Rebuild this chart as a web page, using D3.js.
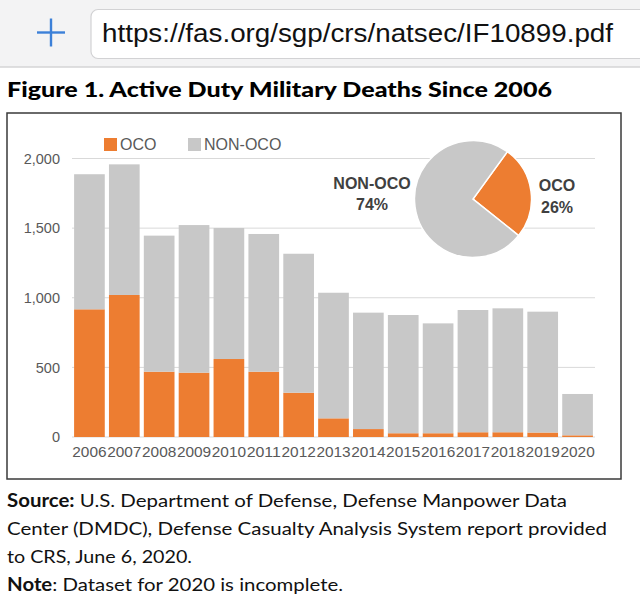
<!DOCTYPE html>
<html><head><meta charset="utf-8">
<script src="https://cdn.jsdelivr.net/npm/d3@7"></script>
<style>html,body{margin:0;padding:0;background:#fff;}svg{display:block;}</style>
</head><body>
<svg id="c" width="640" height="616"></svg>
<script>
const years = ["2006","2007","2008","2009","2010","2011","2012","2013","2014","2015","2016","2017","2018","2019","2020"];
const oco    = [917, 1020, 469, 462, 560, 469, 318, 134, 57, 27, 27, 34, 34, 32, 12];
const nonOco = [970, 938, 977, 1060, 941, 989, 998, 902, 836, 849, 789, 878, 890, 868, 297];
const yTicks = [0, 500, 1000, 1500, 2000];
const seriesNames = ["OCO", "NON-OCO"];
const colors = ["#ED7D31", "#C8C8C8"];

const svg = d3.select("#c");

// browser bar
svg.append("rect").attr("x",0).attr("y",0).attr("width",640).attr("height",67).attr("fill","#f3f3f4");
svg.append("line").attr("x1",0).attr("x2",640).attr("y1",67).attr("y2",67).attr("stroke","#d4d4d6").attr("stroke-width",1.5);
svg.append("rect").attr("x",91).attr("y",9.5).attr("width",580).attr("height",49).attr("rx",7)
  .attr("fill","#fff").attr("stroke","#d2d2d4").attr("stroke-width",1.2);
const plus = svg.append("g").attr("stroke","#3c80d8").attr("stroke-width",2.4);
plus.append("line").attr("x1",37).attr("x2",65).attr("y1",32.5).attr("y2",32.5);
plus.append("line").attr("x1",51).attr("x2",51).attr("y1",18.5).attr("y2",46.5);
svg.append("text").attr("x",102).attr("y",42).attr("font-family","Liberation Sans, Arial, sans-serif")
  .attr("font-size",26).attr("fill","#111").attr("textLength",511).attr("lengthAdjust","spacingAndGlyphs")
  .text("https://fas.org/sgp/crs/natsec/IF10899.pdf");

// title
svg.append("text").attr("x",7).attr("y",97).attr("font-family","Lato, sans-serif").attr("font-weight","900")
  .attr("font-size",21).attr("fill","#000").attr("textLength",545).attr("lengthAdjust","spacingAndGlyphs")
  .text("Figure 1. Active Duty Military Deaths Since 2006");

// chart frame
svg.append("rect").attr("x",7).attr("y",113).attr("width",614).attr("height",366)
  .attr("fill","#fff").attr("stroke","#3a3a3a").attr("stroke-width",1.5);

const x = d3.scaleBand().domain(years).range([72,595]).paddingInner(0.12).paddingOuter(0.06);
const y = d3.scaleLinear().domain([0,2000]).range([437,158.5]);

// gridlines
svg.append("g").selectAll("line").data(yTicks).join("line")
  .attr("x1",72).attr("x2",595).attr("y1",d=>y(d)).attr("y2",d=>y(d))
  .attr("stroke","#d9d9d9").attr("stroke-width",1);

// y axis
const yAxis = svg.append("g").attr("transform","translate(60,0)")
  .call(d3.axisLeft(y).tickValues(yTicks).tickSize(0).tickPadding(0).tickFormat(d3.format(",")));
yAxis.select(".domain").remove();
yAxis.selectAll("text").attr("font-family","Liberation Sans, Arial, sans-serif").attr("font-size",14.5).attr("fill","#595959");

// x axis
const xAxis = svg.append("g").attr("transform","translate(0,437)")
  .call(d3.axisBottom(x).tickSize(0).tickPadding(10));
xAxis.select(".domain").remove();
xAxis.selectAll("text").attr("font-family","Liberation Sans, Arial, sans-serif").attr("font-size",14.5).attr("fill","#595959")
  .attr("textLength",x.step()-0.6).attr("lengthAdjust","spacingAndGlyphs");

// stacked bars
const rows = years.map((yr,i)=>({year:yr, OCO:oco[i], "NON-OCO":nonOco[i]}));
const stack = d3.stack().keys(seriesNames)(rows);
svg.append("g").selectAll("g").data(stack).join("g").attr("fill",(d,i)=>colors[i])
  .selectAll("rect").data(d=>d).join("rect")
  .attr("x",d=>x(d.data.year)).attr("width",x.bandwidth())
  .attr("y",d=>y(d[1])).attr("height",d=>y(d[0])-y(d[1]));

// legend
const legendX = [104, 188];
const lg = svg.append("g").selectAll("g").data(seriesNames).join("g")
  .attr("transform",(d,i)=>`translate(${legendX[i]},138)`);
lg.append("rect").attr("width",13).attr("height",13).attr("fill",(d,i)=>colors[i]);
lg.append("text").attr("x",16).attr("y",12).attr("font-family","Liberation Sans, Arial, sans-serif")
  .attr("font-size",16).attr("fill","#595959").text(d=>d);

// pie
const totals = [d3.sum(oco), d3.sum(nonOco)];
const grand = d3.sum(totals);
const pie = d3.pie().sort(null).startAngle(36*Math.PI/180).endAngle(36*Math.PI/180 + 2*Math.PI);
const arc = d3.arc().innerRadius(0).outerRadius(58.5);
const pg = svg.append("g").attr("transform","translate(473,199)");
pg.selectAll("path").data(pie(totals)).join("path")
  .attr("d",arc).attr("fill",(d,i)=>colors[i]).attr("stroke","#fff").attr("stroke-width",1.5);

const labelPos = [[557,191,213],[372,189,210]];
const pl = svg.append("g").attr("font-family","Liberation Sans, Arial, sans-serif").attr("font-weight","bold")
  .attr("font-size",16).attr("fill","#404040").attr("text-anchor","middle");
seriesNames.forEach((n,i)=>{
  pl.append("text").attr("x",labelPos[i][0]).attr("y",labelPos[i][1]).text(n);
  pl.append("text").attr("x",labelPos[i][0]).attr("y",labelPos[i][2]).text(Math.round(totals[i]/grand*100)+"%");
});

// source & note
const ft = svg.append("g").attr("font-family","Lato, sans-serif").attr("font-size",18).attr("fill","#111");
const l1 = ft.append("text").attr("x",7).attr("y",506.7).attr("textLength",560).attr("lengthAdjust","spacingAndGlyphs");
l1.append("tspan").attr("font-weight","bold").text("Source:");
l1.append("tspan").text(" U.S. Department of Defense, Defense Manpower Data");
ft.append("text").attr("x",7).attr("y",535).attr("textLength",600).attr("lengthAdjust","spacingAndGlyphs")
  .text("Center (DMDC), Defense Casualty Analysis System report provided");
ft.append("text").attr("x",7).attr("y",563.3).attr("textLength",185).attr("lengthAdjust","spacingAndGlyphs")
  .text("to CRS, June 6, 2020.");
const l4 = ft.append("text").attr("x",7).attr("y",590.7).attr("textLength",336).attr("lengthAdjust","spacingAndGlyphs");
l4.append("tspan").attr("font-weight","bold").text("Note");
l4.append("tspan").text(": Dataset for 2020 is incomplete.");
</script>
</body></html>
